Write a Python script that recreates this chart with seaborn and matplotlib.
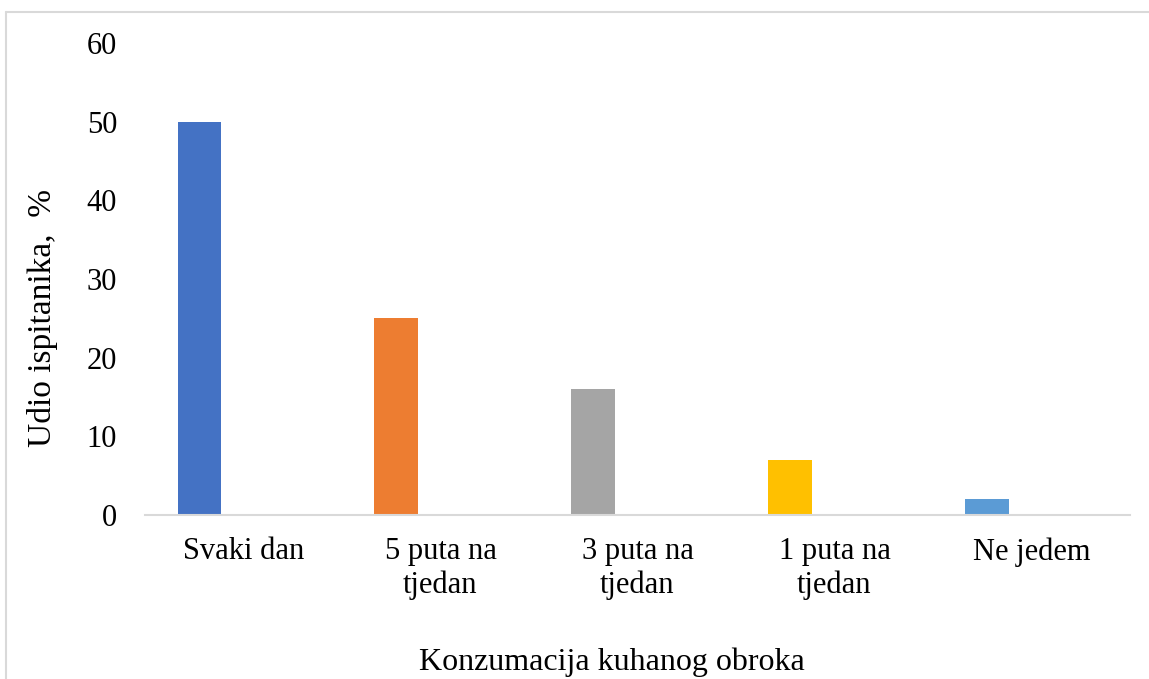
import numpy as np
import pandas as pd
import seaborn as sns
import matplotlib.pyplot as plt
from matplotlib.lines import Line2D

# data
categories = ['Svaki dan', '5 puta na\ntjedan', '3 puta na\ntjedan', '1 puta na\ntjedan', 'Ne jedem']
values = [50, 25, 16, 7, 2]
bar_colors = ['#4472C4', '#ED7D31', '#A5A5A5', '#FFC000', '#5B9BD5']
series = ['s1', 's2', 's3']  # Excel layout: one filled series, two empty slots

sns.set_theme(style="white")
plt.rcParams['font.family'] = ['Liberation Serif', 'DejaVu Serif']
plt.rcParams['text.color'] = 'black'
plt.rcParams['axes.labelcolor'] = 'black'

rows = []
for c, v in zip(categories, values):
    rows.append({'cat': c, 'series': 's1', 'val': v})
    rows.append({'cat': c, 'series': 's2', 'val': 0})
    rows.append({'cat': c, 'series': 's3', 'val': 0})
df = pd.DataFrame(rows)

fig = plt.figure(figsize=(11.49, 6.79), dpi=100)
ax = fig.add_axes([0.1262, 0.2415, 0.8572, 0.6952])

sns.barplot(data=df, x='cat', y='val', hue='series', hue_order=series,
            order=categories, width=0.67, dodge=True, legend=False,
            linewidth=0, ax=ax)

# color the filled bars per category
filled = sorted([p for p in ax.patches if p.get_height() > 0], key=lambda p: p.get_x())
for p, col in zip(filled, bar_colors):
    p.set_facecolor(col)

ax.set_ylim(0, 60)
ax.set_yticks(np.arange(0, 61, 10))
ax.set_xlim(-0.5, len(categories) - 0.5)
ax.tick_params(axis='y', length=0, pad=20, labelsize=22, colors='black')
ax.tick_params(axis='x', length=0, pad=16, labelsize=22, colors='black')
for t in ax.get_xticklabels():
    t.set_linespacing(1.2)

for s in ['top', 'right', 'left']:
    ax.spines[s].set_visible(False)
ax.spines['bottom'].set_color('#D9D9D9')
ax.spines['bottom'].set_linewidth(1.5)

ax.set_ylabel('Udio ispitanika,  %', fontsize=24)
ax.yaxis.set_label_coords(-0.0883, 0.417)
ax.set_xlabel('Konzumacija kuhanog obroka', fontsize=23, labelpad=34)
ax.xaxis.label.set_x(0.474)

# chart border (top and left visible)
fig.add_artist(Line2D([6 / 1149, 6 / 1149], [0, 1 - 12 / 679], color='#D9D9D9', lw=1.5))
fig.add_artist(Line2D([6 / 1149, 1], [1 - 12 / 679, 1 - 12 / 679], color='#D9D9D9', lw=1.5))

fig.savefig('out.png', dpi=100)
